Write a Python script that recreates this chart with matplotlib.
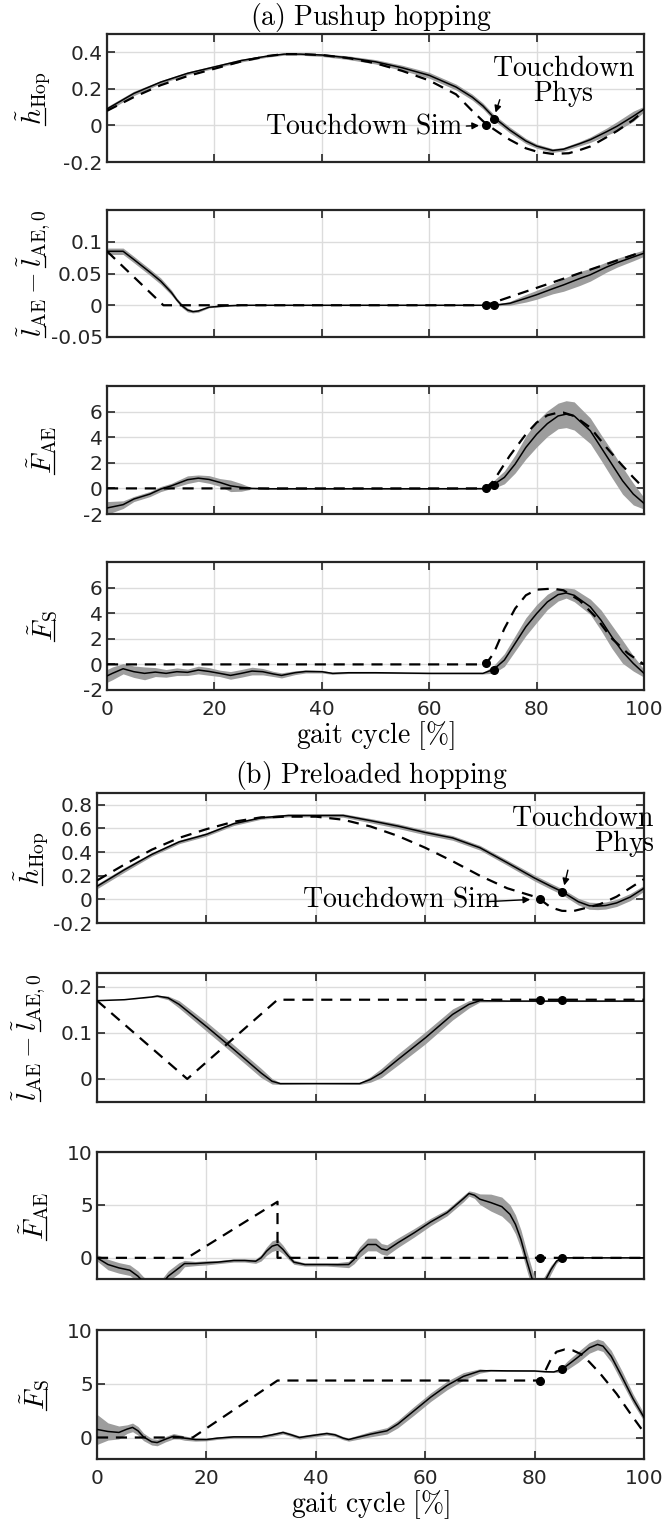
import numpy as np
import matplotlib
matplotlib.use('Agg')
import matplotlib.pyplot as plt
from matplotlib.ticker import FuncFormatter
from matplotlib.font_manager import FontProperties
from matplotlib.lines import Line2D

plt.rcParams['font.family'] = ['DejaVu Sans']
plt.rcParams['mathtext.fontset'] = 'cm'
plt.rcParams['axes.unicode_minus'] = False

# ---------------------------------------------------------------- data
# gait cycle [%] axis
xticks = [0, 20, 40, 60, 80, 100]

# touchdown instants (sim, phys)
td_a = [70.5, 72.0]
td_b = [81.0, 85.0]

# (a) pushup hopping: h_Hop
a_h_x = [0, 5, 10, 15, 20, 25, 30, 33, 36, 40, 45, 50, 55, 60, 65, 68, 70, 72,
         75, 78, 80, 83, 85, 88, 90, 93, 95, 98, 100]
a_h_mean = [0.09, 0.175, 0.237, 0.285, 0.32, 0.355, 0.38, 0.39, 0.39, 0.385,
            0.37, 0.348, 0.315, 0.274, 0.21, 0.155, 0.107, 0.045, -0.025,
            -0.085, -0.113, -0.137, -0.13, -0.1, -0.078, -0.035, -0.004, 0.05,
            0.089]
a_h_sd = [0.012, 0.012, 0.008, 0.008, 0.008, 0.008, 0.006, 0.006, 0.006, 0.008,
          0.01, 0.012, 0.014, 0.016, 0.016, 0.016, 0.016, 0.016, 0.016, 0.014,
          0.012, 0.01, 0.01, 0.012, 0.015, 0.02, 0.025, 0.028, 0.015]
a_h_sim_x = [0, 5, 10, 15, 20, 25, 30, 33, 36, 40, 45, 50, 55, 60, 65, 68, 70,
             71, 73, 75, 78, 80, 83, 86, 88, 90, 93, 95, 98, 100]
a_h_sim = [0.08, 0.155, 0.22, 0.27, 0.31, 0.35, 0.38, 0.39, 0.39, 0.385, 0.368,
           0.34, 0.298, 0.246, 0.17, 0.08, 0.024, 0.0, -0.04, -0.078, -0.125,
           -0.143, -0.156, -0.152, -0.135, -0.115, -0.065, -0.03, 0.03, 0.08]
a_h_td = [0.002, 0.037]

# (a) l_AE - l_AE,0
a_l_x = [0, 3, 5, 8, 10, 12, 13, 14, 15, 16, 17, 19, 22, 25, 30, 40, 50, 60,
         70, 72, 75, 78, 80, 83, 85, 88, 90, 93, 95, 98, 100]
a_l_mean = [0.085, 0.085, 0.072, 0.052, 0.038, 0.02, 0.0085, -0.001, -0.0075,
            -0.01, -0.009, -0.003, -0.001, 0, 0, 0, 0, 0, 0, 0, 0.003, 0.011,
            0.0165, 0.026, 0.032, 0.042, 0.048, 0.06, 0.067, 0.076, 0.082]
a_l_sd = [0.005, 0.005, 0.005, 0.005, 0.005, 0.004, 0.003, 0.003, 0.003, 0.002,
          0.002, 0.001, 0.001, 0.0005, 0.0005, 0.0005, 0.0005, 0.0005, 0.0005,
          0.001, 0.003, 0.006, 0.007, 0.008, 0.01, 0.011, 0.01, 0.008, 0.007,
          0.006, 0.005]
a_l_sim_x = [0, 10.5, 70.5, 100]
a_l_sim = [0.085, 0, 0, 0.085]
a_l_td = [0.0, 0.0]

# (a) F_AE
a_fae_x = [0, 3, 5, 8, 10, 12, 15, 17, 19, 21, 23, 25, 27, 30, 40, 50, 60, 70,
           71, 72, 74, 76, 78, 80, 82, 84, 85.5, 87, 90, 92, 94, 96, 98, 100]
a_fae_mean = [-1.53, -1.27, -0.83, -0.44, -0.05, 0.2, 0.68, 0.8, 0.7, 0.47, 0.2,
              0.08, 0.0, -0.03, -0.03, -0.03, -0.03, -0.02, 0.03, 0.3, 0.86,
              1.9, 3.2, 4.23, 5.06, 5.66, 5.8, 5.66, 4.5, 3.2, 1.9, 0.6, -0.44,
              -1.17]
a_fae_sd = [0.5, 0.3, 0.2, 0.2, 0.2, 0.2, 0.3, 0.25, 0.3, 0.3, 0.45, 0.3, 0.05,
            0.03, 0.03, 0.03, 0.03, 0.03, 0.1, 0.3, 0.5, 0.7, 0.9, 1.0, 1.0, 1.0,
            1.05, 1.1, 1.0, 1.0, 1.05, 1.05, 0.85, 0.45]
a_fae_sim_x = [0, 70.5, 72, 75, 78, 80, 82, 84, 85, 87, 90, 93, 96, 98, 100]
a_fae_sim = [0, 0, 0.6, 2.55, 4.23, 5.14, 5.71, 5.92, 5.92, 5.66, 4.75, 3.2,
             1.77, 0.86, 0]
a_fae_td = [0.0, 0.3]

# (a) F_S
a_fs_x = [0, 1, 3, 5, 7, 9, 11, 13, 15, 17, 19, 21, 23, 25, 27, 29, 31, 32.5,
          35, 37, 40, 42, 45, 50, 60, 70, 72, 74, 76, 78, 80, 82, 84, 85.5, 87,
          90, 92, 94, 96, 98, 100]
a_fs_mean = [-0.9, -0.7, -0.34, -0.57, -0.7, -0.6, -0.7, -0.57, -0.62, -0.44,
             -0.55, -0.7, -0.86, -0.7, -0.52, -0.57, -0.75, -0.86, -0.65, -0.55,
             -0.57, -0.7, -0.65, -0.65, -0.7, -0.7, -0.39, 0.34, 1.64, 2.94,
             3.97, 4.88, 5.45, 5.58, 5.4, 4.5, 3.45, 2.16, 0.99, 0.08, -0.7]
a_fs_sd = [0.5, 0.5, 0.4, 0.45, 0.5, 0.35, 0.3, 0.3, 0.25, 0.3, 0.3, 0.25, 0.3,
           0.3, 0.3, 0.25, 0.2, 0.2, 0.15, 0.12, 0.1, 0.08, 0.06, 0.05, 0.04,
           0.05, 0.3, 0.5, 0.6, 0.7, 0.7, 0.6, 0.5, 0.4, 0.5, 0.6, 0.8, 0.9, 0.9,
           0.6, 0.3]
a_fs_sim_x = [0, 70.5, 72, 74, 76, 78, 80, 83, 85, 88, 91, 94, 97, 100]
a_fs_sim = [0, 0, 0.86, 2.8, 4.36, 5.4, 5.84, 5.92, 5.79, 5.0, 3.7, 2.03, 0.86, 0]
a_fs_td = [0.08, -0.4]

# (b) preloaded hopping: h_Hop
b_h_x = [0, 5, 10, 15, 20, 25, 30, 35, 40, 45, 50, 55, 60, 65, 70, 75, 80, 83,
         85, 88, 90, 91.5, 93, 95, 97.5, 100]
b_h_mean = [0.11, 0.25, 0.38, 0.486, 0.55, 0.64, 0.69, 0.71, 0.71, 0.71, 0.666,
            0.62, 0.566, 0.52, 0.437, 0.31, 0.18, 0.11, 0.066, -0.02, -0.054,
            -0.057, -0.052, -0.03, 0.02, 0.094]
b_h_sd = [0.02, 0.02, 0.015, 0.015, 0.015, 0.015, 0.012, 0.012, 0.012, 0.015,
          0.018, 0.02, 0.02, 0.02, 0.02, 0.022, 0.025, 0.025, 0.025, 0.028,
          0.03, 0.03, 0.03, 0.03, 0.03, 0.025]
b_h_sim_x = [0, 5, 10, 15, 20, 25, 30, 35, 40, 45, 50, 55, 60, 65, 70, 75, 80,
             81, 83, 85, 87, 89, 92, 95, 100]
b_h_sim = [0.16, 0.294, 0.42, 0.52, 0.594, 0.657, 0.694, 0.70, 0.70, 0.674,
           0.617, 0.537, 0.437, 0.323, 0.2, 0.094, 0.023, 0.0, -0.069, -0.097,
           -0.1, -0.077, -0.04, 0.023, 0.171]
b_h_td = [0.0, 0.066]

# (b) l_AE - l_AE,0
b_l_x = [0, 5, 10, 11, 13, 15, 20, 25, 30, 32, 33.5, 40, 48, 50, 52, 55, 60, 65,
         68, 70, 75, 80, 90, 100]
b_l_mean = [0.17, 0.172, 0.178, 0.18, 0.176, 0.162, 0.114, 0.064, 0.013, -0.005,
            -0.01, -0.01, -0.01, -0.001, 0.013, 0.042, 0.089, 0.14, 0.162, 0.17,
            0.169, 0.169, 0.169, 0.169]
b_l_sd = [0.0, 0.0, 0.001, 0.002, 0.004, 0.008, 0.01, 0.01, 0.01, 0.006, 0.002,
          0.001, 0.002, 0.006, 0.01, 0.012, 0.013, 0.012, 0.008, 0.003, 0.001,
          0.001, 0.001, 0.001]
b_l_sim_x = [0, 16.5, 33, 100]
b_l_sim = [0.17, 0, 0.172, 0.172]
b_l_td = [0.172, 0.171]

# (b) F_AE
b_fae_x = [0, 2, 4, 6, 7.5, 8.5, 10, 12, 13, 15, 16, 18, 20, 22, 25, 27, 29, 30,
           31, 32, 33, 34, 35, 36, 38, 40, 42, 44, 46, 47, 48, 49.5, 51, 52, 53,
           55, 58, 61, 64, 67, 68, 69, 70, 72, 74, 75.5, 76.5, 77.5, 78.5, 79.5,
           80.5, 81.5, 83, 84, 85, 90, 100]
b_fae_mean = [0, -0.63, -0.95, -1.17, -1.74, -2.3, -2.8, -2.4, -1.74, -0.95,
              -0.54, -0.54, -0.47, -0.41, -0.25, -0.25, -0.32, 0, 0.63, 1.1,
              1.26, 0.79, 0.16, -0.41, -0.63, -0.63, -0.63, -0.65, -0.63, -0.16,
              0.54, 1.26, 1.26, 0.85, 0.73, 1.42, 2.37, 3.39, 4.27, 5.6, 6.08,
              5.92, 5.54, 5.22, 4.84, 4.11, 3.16, 1.74, -0.16, -1.9, -3.5, -2.6,
              -1.1, -0.32, 0, 0, 0]
b_fae_sd = [0.3, 0.5, 0.5, 0.5, 0.5, 0.5, 0.5, 0.5, 0.5, 0.5, 0.3, 0.2, 0.2,
            0.15, 0.15, 0.15, 0.2, 0.3, 0.4, 0.5, 0.5, 0.4, 0.3, 0.2, 0.15, 0.15,
            0.15, 0.2, 0.3, 0.4, 0.5, 0.6, 0.6, 0.5, 0.5, 0.45, 0.4, 0.35, 0.3,
            0.3, 0.25, 0.3, 0.5, 0.8, 0.9, 0.9, 0.9, 0.9, 0.9, 0.9, 0.9, 0.6,
            0.4, 0.2, 0.05, 0.02, 0.02]
b_fae_sim_x = [0, 16.5, 33, 33, 100]
b_fae_sim = [0, 0, 5.3, 0, 0]
b_fae_td = [0.0, 0.0]

# (b) F_S
b_fs_x = [0, 2, 4, 5.5, 6.5, 7.5, 8.5, 10, 11, 12.5, 14, 15, 16, 18, 20, 22, 25,
          30, 32, 34, 35.5, 37, 39, 42, 43.5, 45, 46, 48, 50, 53, 55, 58, 61,
          64, 67, 70, 72, 75, 80, 82, 83.5, 85, 86, 88, 90, 91.5, 92.5, 94, 96,
          98, 100]
b_fs_mean = [0.75, 0.56, 0.47, 0.78, 0.94, 0.62, 0.06, -0.4, -0.47, -0.16, 0.12,
             0.06, -0.06, -0.19, -0.19, -0.06, 0.06, 0.06, 0.25, 0.47, 0.25, 0,
             0.16, 0.37, 0.25, -0.06, -0.19, 0.06, 0.31, 0.62, 1.25, 2.5, 3.75,
             4.84, 5.69, 6.19, 6.22, 6.2, 6.19, 6.12, 6.1, 6.34, 6.72, 7.5, 8.34,
             8.66, 8.5, 7.56, 5.62, 3.6, 1.87]
b_fs_sd = [1.4, 0.8, 0.6, 0.4, 0.4, 0.4, 0.35, 0.3, 0.3, 0.25, 0.25, 0.2, 0.2,
           0.15, 0.12, 0.12, 0.12, 0.12, 0.15, 0.15, 0.15, 0.15, 0.15, 0.15,
           0.15, 0.15, 0.15, 0.2, 0.25, 0.3, 0.35, 0.4, 0.4, 0.4, 0.35, 0.2,
           0.05, 0.05, 0.05, 0.05, 0.05, 0.25, 0.4, 0.5, 0.5, 0.5, 0.5, 0.55,
           0.55, 0.45, 0.35]
b_fs_sim_x = [0, 17.5, 33, 81, 82, 83, 84, 85.5, 87, 88.5, 90, 92, 95, 98, 100]
b_fs_sim = [0, 0, 5.3, 5.3, 6.25, 7.3, 7.97, 8.19, 8.1, 7.75, 7.03, 5.94, 4.06,
            1.87, 0.47]
b_fs_td = [5.3, 6.34]

# ---------------------------------------------------------------- labels
# (mathtext has no \underline, the underlines are drawn by hand below)
lab_h = r'$\tilde{h}_{\mathrm{Hop}}$'
lab_l = r'$\tilde{l}_{\mathrm{AE}}-\tilde{l}_{\mathrm{AE,0}}$'
lab_fae = r'$\tilde{F}_{\mathrm{AE}}$'
lab_fs = r'$\tilde{F}_{\mathrm{S}}$'

# which leading parts of each label get underlined: (prefix before, symbol)
ul_h = [('', r'\tilde{h}')]
ul_l = [('', r'\tilde{l}'), (r'\tilde{l}_{\mathrm{AE}}-', r'\tilde{l}')]
ul_f = [('', r'\tilde{F}')]

# ---------------------------------------------------------------- figure
W, H = 668, 1522
fig = plt.figure(figsize=(W / 100, H / 100), dpi=100)

band_c = '#9d9d9d'
edge_c = '#262626'
tick_fs = 14.5
serif_fs = 20


def add_ax(left, right, top, bottom):
    return fig.add_axes([left / W, 1 - bottom / H, (right - left) / W,
                         (bottom - top) / H])


def style(ax, ylim, yticks, ylabel, labx, show_x):
    ax.set_xlim(0, 100)
    ax.set_ylim(*ylim)
    ax.set_xticks(xticks)
    ax.set_yticks(yticks)
    ax.yaxis.set_major_formatter(FuncFormatter(lambda v, p: '%g' % v))
    ax.grid(True, color='#dcdcdc', lw=1.0)
    ax.set_axisbelow(True)
    for s in ax.spines.values():
        s.set_color(edge_c)
        s.set_linewidth(1.6)
    ax.tick_params(direction='in', length=6, width=1.2, color=edge_c,
                   labelcolor=edge_c, labelsize=tick_fs, top=True, right=True,
                   pad=3)
    ax.tick_params(axis='x', pad=7)
    if not show_x:
        ax.set_xticklabels([])
    ax.set_ylabel(ylabel, fontsize=serif_fs)
    ax.yaxis.set_label_coords(labx, 0.5)


def panel(ax, x, mean, sd, sim_x, sim, td, td_y):
    x = np.array(x)
    mean = np.array(mean)
    sd = np.array(sd)
    ax.fill_between(x, mean - sd, mean + sd, color=band_c, lw=0, zorder=2)
    ax.plot(x, mean, color='k', lw=1.1, zorder=3)
    ax.plot(sim_x, sim, color='k', lw=1.6, ls=(0, (5, 3.5)), zorder=4)
    ax.plot(td, td_y, 'o', color='k', ms=5.5, zorder=5, clip_on=False)


arrow = dict(arrowstyle='-|>', color='k', lw=1.0, mutation_scale=10)
td_label = r'$\mathrm{Touchdown}$' + '\n' + r'$\mathrm{Phys}$'

# group (a)
la, ra = 107, 644
boxes_a = [(34, 162), (210, 337), (386, 514), (562, 690)]
axa = [add_ax(la, ra, t, b) for t, b in boxes_a]

panel(axa[0], a_h_x, a_h_mean, a_h_sd, a_h_sim_x, a_h_sim, td_a, a_h_td)
style(axa[0], (-0.2, 0.5), [-0.2, 0, 0.2, 0.4], lab_h, -0.10, False)
panel(axa[1], a_l_x, a_l_mean, a_l_sd, a_l_sim_x, a_l_sim, td_a, a_l_td)
style(axa[1], (-0.05, 0.15), [-0.05, 0, 0.05, 0.1], lab_l, -0.10, False)
panel(axa[2], a_fae_x, a_fae_mean, a_fae_sd, a_fae_sim_x, a_fae_sim, td_a, a_fae_td)
style(axa[2], (-2, 8), [-2, 0, 2, 4, 6], lab_fae, -0.09, False)
panel(axa[3], a_fs_x, a_fs_mean, a_fs_sd, a_fs_sim_x, a_fs_sim, td_a, a_fs_td)
style(axa[3], (-2, 8), [-2, 0, 2, 4, 6], lab_fs, -0.09, True)
axa[3].set_xlabel(r'$\mathrm{gait\ cycle\ [\%]}$', fontsize=serif_fs, labelpad=0)

fig.text(371 / W, 1 - 18 / H, r'$\mathrm{(a)\ Pushup\ hopping}$',
         fontsize=serif_fs, ha='center', va='center')

ax = axa[0]
ax.text(85.0, 0.24, td_label, fontsize=serif_fs, ha='center', va='center',
        multialignment='center', linespacing=0.85)
ax.annotate('', xy=(72.2, 0.056), xytext=(73.3, 0.155), arrowprops=arrow)
ax.text(66.2, -0.002, r'$\mathrm{Touchdown\ Sim}$', fontsize=serif_fs,
        ha='right', va='center')
ax.annotate('', xy=(69.8, 0.0), xytext=(66.4, -0.004), arrowprops=arrow)

# group (b)
lb, rb = 97, 644
boxes_b = [(793, 923), (973, 1102), (1152, 1279), (1330, 1459)]
axb = [add_ax(lb, rb, t, b) for t, b in boxes_b]

panel(axb[0], b_h_x, b_h_mean, b_h_sd, b_h_sim_x, b_h_sim, td_b, b_h_td)
style(axb[0], (-0.2, 0.9), [-0.2, 0, 0.2, 0.4, 0.6, 0.8], lab_h, -0.085, False)
panel(axb[1], b_l_x, b_l_mean, b_l_sd, b_l_sim_x, b_l_sim, td_b, b_l_td)
style(axb[1], (-0.05, 0.23), [0, 0.1, 0.2], lab_l, -0.09, False)
panel(axb[2], b_fae_x, b_fae_mean, b_fae_sd, b_fae_sim_x, b_fae_sim, td_b, b_fae_td)
style(axb[2], (-2, 10), [0, 5, 10], lab_fae, -0.085, False)
panel(axb[3], b_fs_x, b_fs_mean, b_fs_sd, b_fs_sim_x, b_fs_sim, td_b, b_fs_td)
style(axb[3], (-2, 10), [0, 5, 10], lab_fs, -0.085, True)
axb[3].set_xlabel(r'$\mathrm{gait\ cycle\ [\%]}$', fontsize=serif_fs, labelpad=0)

fig.text(371 / W, 1 - 775 / H, r'$\mathrm{(b)\ Preloaded\ hopping}$',
         fontsize=serif_fs, ha='center', va='center')

ax = axb[0]
ax.text(102.0, 0.575, td_label, fontsize=serif_fs, ha='right', va='center',
        multialignment='right', linespacing=0.85)
ax.annotate('', xy=(85.3, 0.095), xytext=(86.2, 0.27), arrowprops=arrow)
ax.text(73.7, 0.01, r'$\mathrm{Touchdown\ Sim}$', fontsize=serif_fs,
        ha='right', va='center')
ax.annotate('', xy=(79.7, 0.0), xytext=(71.0, -0.02), arrowprops=arrow)

# ---------------------------------------------------------------- underlines
fig.canvas.draw()
rend = fig.canvas.get_renderer()
prop = FontProperties(size=serif_fs)


def tw(s):
    w, h, d = rend.get_text_width_height_descent('$' + s + '$', prop, ismath=True)
    return w, d


def underline(ax, label, parts):
    bb = ax.yaxis.label.get_window_extent(rend)
    _, d = tw(label.strip('$'))
    xb = bb.x1 - d + 2.5
    for pre, sym in parts:
        w_sym, _ = tw(sym)
        start = tw(pre + sym)[0] - w_sym if pre else 0.0
        y0 = bb.y0 + start
        fig.add_artist(Line2D([xb / W, xb / W], [y0 / H, (y0 + w_sym) / H],
                              transform=fig.transFigure, color='k', lw=0.9))


for axs in (axa, axb):
    underline(axs[0], lab_h, ul_h)
    underline(axs[1], lab_l, ul_l)
    underline(axs[2], lab_fae, ul_f)
    underline(axs[3], lab_fs, ul_f)

fig.savefig('out.png', dpi=100)
